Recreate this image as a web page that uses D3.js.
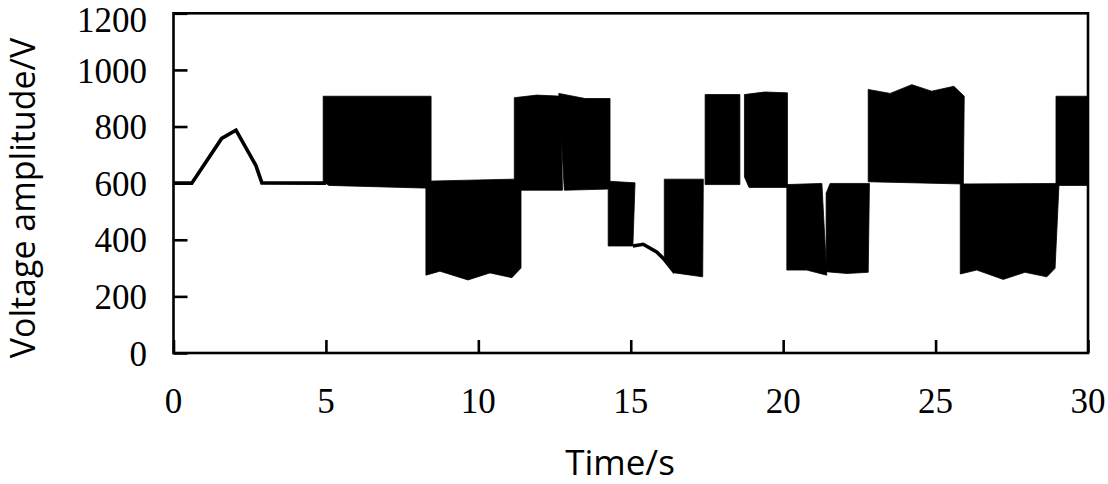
<!DOCTYPE html>
<html><head><meta charset="utf-8">
<script src="https://cdn.jsdelivr.net/npm/d3@7"></script>
<style>body{margin:0;background:#fff}svg{display:block}</style>
</head><body><svg id="c" width="1108" height="484"></svg>
<script>
// ---- data ----
const xTicks = [0, 5, 10, 15, 20, 25, 30];
const yTicks = [0, 200, 400, 600, 800, 1000, 1200];

// continuous (non-oscillating) parts of the voltage trace: [time s, voltage V]
const traceStart = [[0,600],[0.6,600],[1.58,758],[2.05,787],[2.7,663],[2.9,601],[5.0,600]];
const traceDip   = [[15.07,378],[15.41,384],[15.85,357],[16.07,334],[16.45,283]];

// rapidly switching segments: outline envelope, upper edge then lower edge (right to left)
const blockA = [[4.91,907],[8.45,907],[8.45,582],[5.10,592],[4.91,605]];
const blockB = [[8.28,607],[11.14,614],[11.40,614],[11.40,300],[11.10,266],[10.38,283],[9.66,258],[8.74,289],[8.28,275]];
const blockC = [[11.18,902],[11.92,911],[12.57,908],[12.70,907],[12.76,575],[11.18,575]];
const blockD = [[12.64,917],[13.50,899],[14.32,899],[14.32,605],[14.25,579],[12.82,575]];
const blockE = [[14.26,607],[15.14,601],[15.07,378],[14.26,378]];
const blockF = [[16.10,614],[17.38,614],[17.36,269],[16.45,283],[16.10,334]];
const blockG = [[17.44,913],[18.58,913],[18.58,595],[17.44,595]];
const blockH = [[18.73,913],[19.40,922],[20.14,919],[20.14,585],[18.88,585],[18.73,622]];
const blockI = [[20.12,595],[21.27,599],[21.43,275],[20.77,293],[20.12,293]];
const blockJ = [[21.41,564],[21.54,599],[22.83,599],[22.79,285],[22.09,281],[21.41,287]];
const blockK = [[22.79,931],[23.51,917],[24.22,948],[24.87,925],[25.60,942],[25.94,907],[25.91,597],[22.79,605]];
const blockL = [[25.81,597],[29.05,599],[28.92,299],[28.65,269],[27.93,285],[27.22,260],[26.35,293],[25.81,279]];
const blockM = [[28.95,907],[30,907],[30,592],[28.95,592]];
const blocks = [blockA, blockB, blockC, blockD, blockE, blockF, blockG, blockH, blockI, blockJ, blockK, blockL, blockM];

// ---- drawing ----
const svg = d3.select("#c");
const L = 173.5, R = 1088, T = 13.3, B = 353;
const x = d3.scaleLinear().domain([0, 30]).range([L, R]);
const y = d3.scaleLinear().domain([0, 1200]).range([B, T]);

const poly = d3.line().x(d => x(d[0])).y(d => y(d[1])).curve(d3.curveLinearClosed);
svg.append("g").selectAll("path").data(blocks).join("path")
  .attr("d", poly).attr("fill", "#000").attr("stroke", "#000").attr("stroke-width", 0.8);

const ln = d3.line().x(d => x(d[0])).y(d => y(d[1]));
svg.append("g").selectAll("path").data([traceStart, traceDip]).join("path")
  .attr("d", ln).attr("fill", "none").attr("stroke", "#000").attr("stroke-width", 3.6)
  .attr("stroke-linejoin", "miter");

// frame
svg.append("rect").attr("x", L).attr("y", T).attr("width", R - L).attr("height", B - T)
  .attr("fill", "none").attr("stroke", "#000").attr("stroke-width", 2.6);

// axes with inward ticks
const yAxis = d3.axisRight(y).tickValues(yTicks).tickSize(14).tickFormat("");
const gy = svg.append("g").attr("transform", `translate(${L},0)`).call(yAxis);
const xAxis = d3.axisTop(x).tickValues(xTicks).tickSize(13).tickFormat("");
const gx = svg.append("g").attr("transform", `translate(0,${B})`).call(xAxis);
[gy, gx].forEach(g => {
  g.select(".domain").remove();
  g.selectAll("line").attr("stroke", "#000").attr("stroke-width", 2.6);
});

// tick labels
svg.append("g").selectAll("text").data(yTicks).join("text")
  .attr("x", 147).attr("y", d => Math.max(y(d), 19.5)).attr("dy", "0.36em")
  .attr("text-anchor", "end")
  .style("font-family", "'Liberation Serif','Times New Roman',serif").style("font-size", "35px")
  .text(d => d);
svg.append("g").selectAll("text").data(xTicks).join("text")
  .attr("x", d => x(d)).attr("y", 413)
  .attr("text-anchor", "middle")
  .style("font-family", "'Liberation Serif','Times New Roman',serif").style("font-size", "35px")
  .text(d => d);

// axis titles
svg.append("text").attr("x", 620).attr("y", 475).attr("text-anchor", "middle")
  .style("font-family", "'Open Sans','Noto Sans',sans-serif").style("font-size", "35px")
  .text("Time/s");
svg.append("text").attr("transform", "translate(35,198) rotate(-90)").attr("text-anchor", "middle")
  .style("font-family", "'Open Sans','Noto Sans',sans-serif").style("font-size", "34px")
  .text("Voltage amplitude/V");
</script></body></html>
